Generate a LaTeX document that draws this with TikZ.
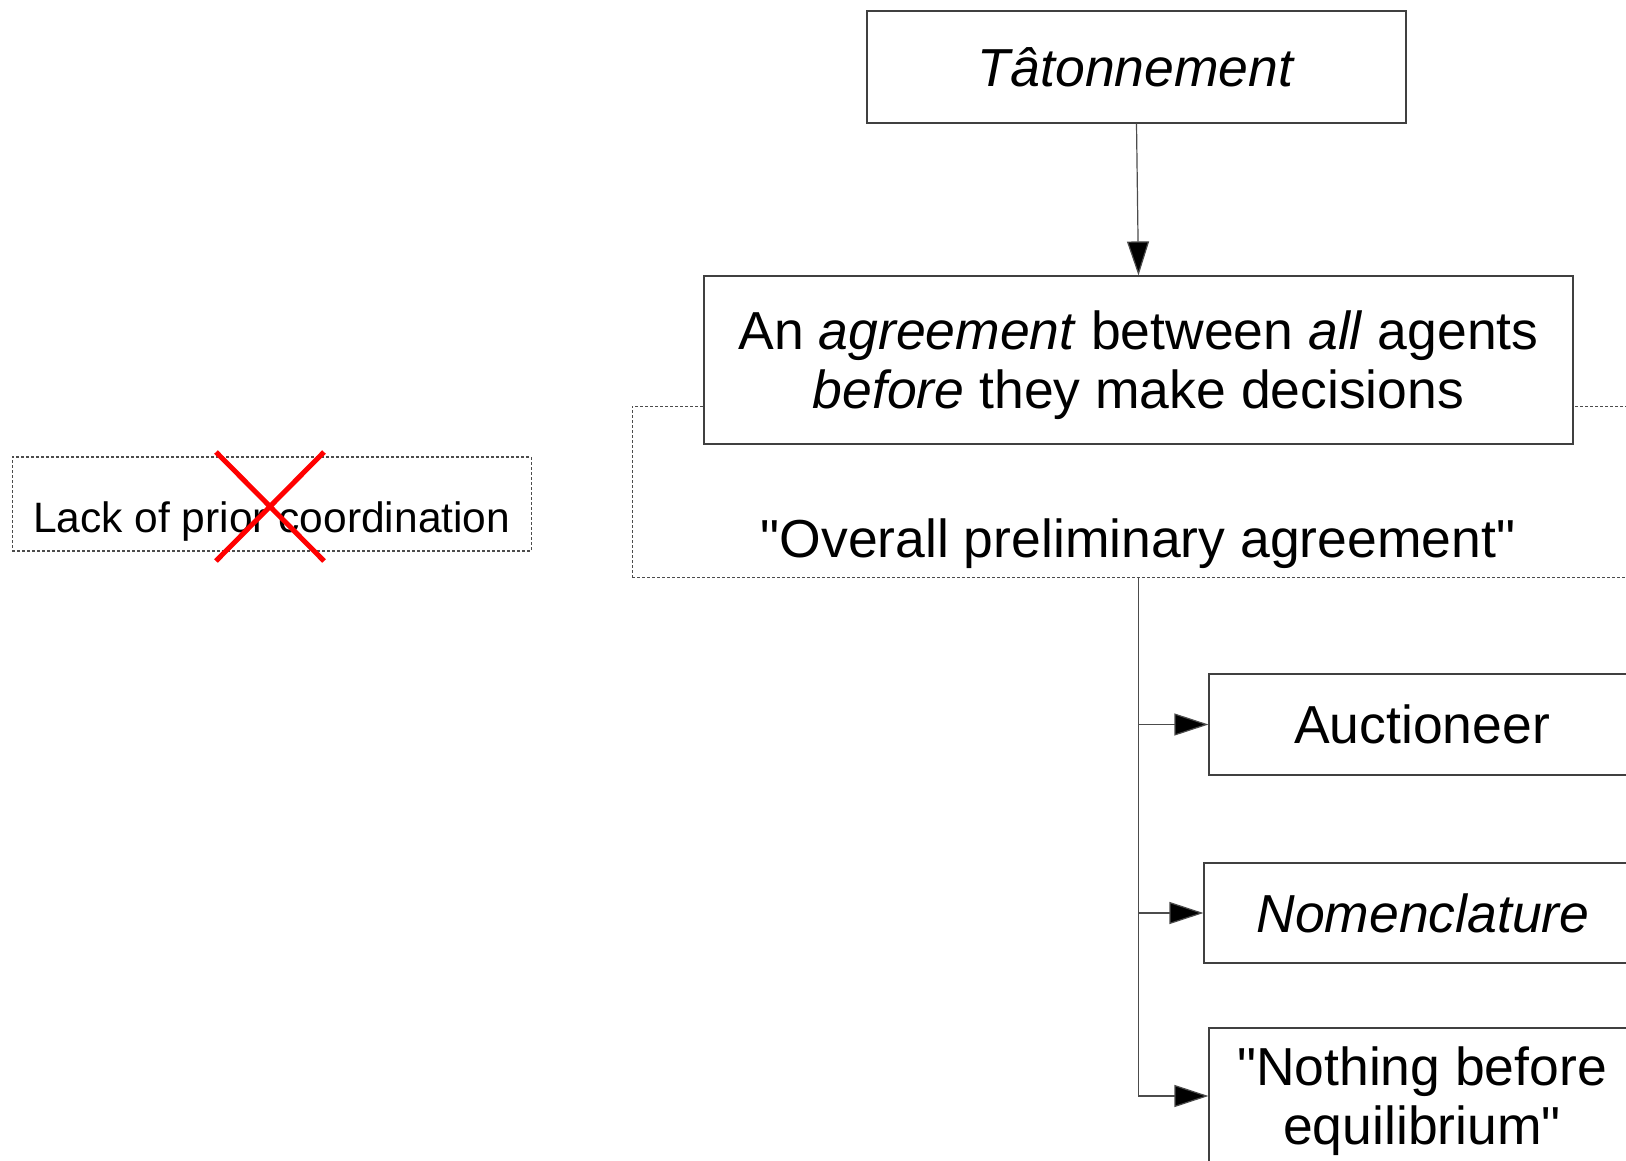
\documentclass[tikz,border=0pt]{standalone}
\usepackage{fontspec}
\setmainfont{Liberation Sans}[Ligatures=TeXOff]
\usetikzlibrary{arrows.meta}
\begin{document}
\begin{tikzpicture}[x=1pt,y=-1pt,
  box/.style={draw=black!75, line width=1.2pt, fill=white, inner sep=0pt,
    text height=38.3pt, text depth=0pt, align=center, font=\fontsize{53.5}{59}\selectfont},
  twoline/.style={text height=97.3pt},
  dbox/.style={draw=black!70, line width=1.1pt, dash pattern=on 3pt off 2pt, inner sep=0pt},
  link/.style={draw=black!70, line width=1.2pt, -{Triangle[length=34pt,width=22pt,fill=black]}},
  cross/.style={draw=red, line width=5pt}
]
\useasboundingbox (0,0) rectangle (1626,1160);
\clip (0,0) rectangle (1626,1160);
% dashed group box (behind)
\node[dbox, minimum width=1150pt, minimum height=171pt, anchor=north west] (dash) at (631.5,405.5) {};
\node[anchor=base, inner sep=0pt, font=\fontsize{53.5}{59}\selectfont] (overall) at (1138,557) {"Overall preliminary agreement"};
% main boxes
\node[box, minimum width=539pt, minimum height=112pt] (tat) at (1136.5,67) {\textit{Tâtonnement}};
\node[box, twoline, minimum width=869pt, minimum height=168pt] (agr) at (1138.5,360)
  {An \textit{agreement} between \textit{all} agents\\\textit{before} they make decisions};
\node[box, minimum width=426pt, minimum height=101pt] (auc) at (1422,724.5) {Auctioneer};
\node[box, minimum width=438pt, minimum height=100pt] (nom) at (1423,913) {\textit{Nomenclature}};
\node[box, twoline, minimum width=426pt, minimum height=136pt] (noth) at (1422,1096) {"Nothing before\\equilibrium"};
% left box
\node[dbox, minimum width=519pt, minimum height=94pt, text height=56pt, text depth=0pt,
  font=\fontsize{42.5}{50}\selectfont] (lack) at (271.7,504) {Lack of prior coordination};
\draw[cross] (216,452) -- (324,561);
\draw[cross] (324,452) -- (216,561);
% connectors
\coordinate (trunk) at (agr.south |- dash.south);
\draw[link] (tat.south) -- (agr.north);
\draw[link] (trunk) |- (auc.west);
\draw[link] (trunk) |- (nom.west);
\draw[link] (trunk) |- (noth.west);
\end{tikzpicture}
\end{document}
